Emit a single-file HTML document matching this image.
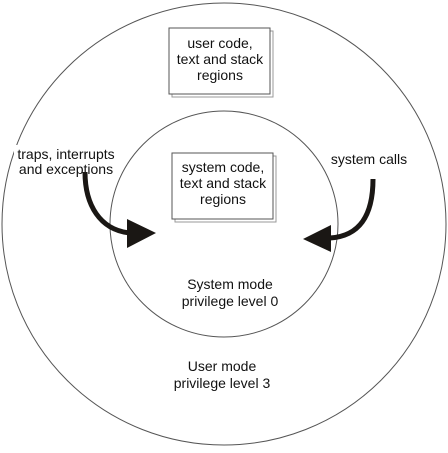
<!DOCTYPE html>
<html><head><style>
body{margin:0;background:#fff}
svg text{font-family:"Liberation Sans",sans-serif;font-size:14px;fill:#111}
</style></head><body>
<svg width="448" height="448" viewBox="0 0 448 448" xmlns="http://www.w3.org/2000/svg">
<ellipse cx="224" cy="224" rx="222" ry="221" fill="none" stroke="#555" stroke-width="1"/>
<ellipse cx="224" cy="224" rx="114" ry="113" fill="none" stroke="#555" stroke-width="1"/>
<!-- box 1 -->
<rect x="172" y="31" width="101" height="66" fill="none" stroke="#999"/>
<rect x="169" y="28" width="101" height="66" fill="#fff" stroke="#555"/>
<text x="220" y="48" text-anchor="middle">user code,</text>
<text x="220" y="64" text-anchor="middle">text and stack</text>
<text x="220" y="80" text-anchor="middle">regions</text>
<!-- box 2 -->
<rect x="175" y="156" width="101" height="66" fill="none" stroke="#999"/>
<rect x="172" y="153" width="101" height="66" fill="#fff" stroke="#555"/>
<text x="223" y="172" text-anchor="middle">system code,</text>
<text x="223" y="188" text-anchor="middle">text and stack</text>
<text x="223" y="204" text-anchor="middle">regions</text>
<!-- labels -->
<rect x="14" y="145" width="106" height="32" fill="#fff"/>
<text x="66" y="159" text-anchor="middle">traps, interrupts</text>
<text x="66" y="174" text-anchor="middle">and exceptions</text>
<rect x="325" y="150" width="88" height="16" fill="#fff"/>
<text x="369" y="164" text-anchor="middle">system calls</text>
<text x="230" y="289" text-anchor="middle">System mode</text>
<text x="230" y="306" text-anchor="middle">privilege level 0</text>
<text x="222" y="371" text-anchor="middle">User mode</text>
<text x="222" y="388" text-anchor="middle">privilege level 3</text>
<!-- arrows -->
<path d="M85 172 C85 205 100 230 130 233" fill="none" stroke="#1a1714" stroke-width="5"/>
<polygon points="127,219 156,233 127,248" fill="#1a1714"/>
<path d="M373 179 C373 215 360 236 330 238" fill="none" stroke="#1a1714" stroke-width="5"/>
<polygon points="331,225 303,239 331,252" fill="#1a1714"/>
</svg>
</body></html>
